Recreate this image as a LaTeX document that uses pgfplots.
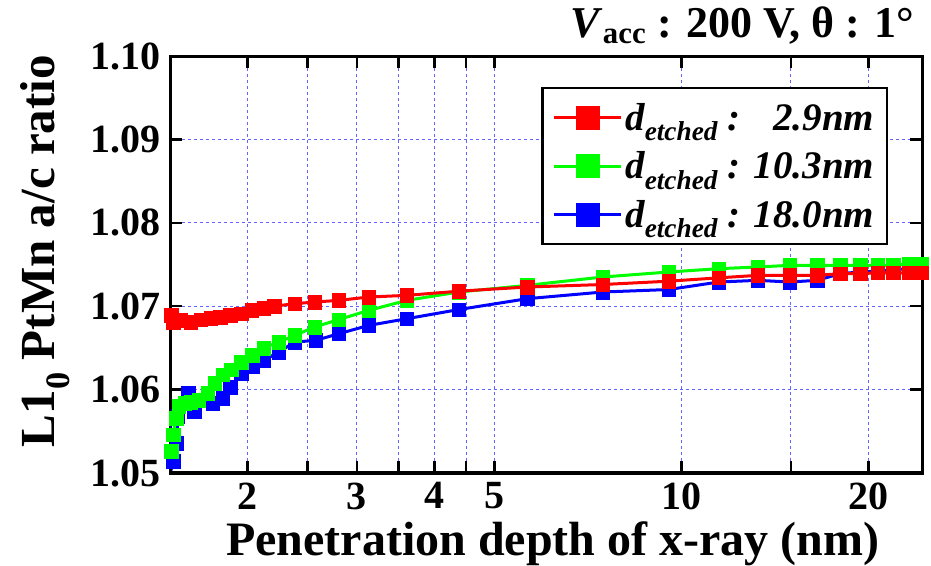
\documentclass[border=0pt]{standalone}
\usepackage{fontspec}
\setmainfont{Liberation Serif}
\usepackage{pgfplots}
\pgfplotsset{compat=1.18}
\definecolor{gridblue}{RGB}{100,100,255}
\definecolor{pred}{RGB}{255,0,0}
\definecolor{pgreen}{RGB}{0,255,0}
\definecolor{pblue}{RGB}{0,0,255}
\begin{document}
\begin{tikzpicture}
\useasboundingbox (0,0) rectangle (931bp,566bp);
\begin{axis}[
  at={(170bp,93bp)}, anchor=south west,
  scale only axis, width=752bp, height=417bp,
  xmode=log, xmin=1.5, xmax=24.4, ymin=1.05, ymax=1.10,
  xtick={2,3,4,5,10,20}, xticklabels={2,3,4,5,10,20},
  minor xtick={2.5,3.5,4.5,15},
  ytick={1.05,1.06,1.07,1.08,1.09,1.10},
  yticklabels={1.05,1.06,1.07,1.08,1.09,1.10},
  grid=both,
  major grid style={gridblue, dash pattern=on 3bp off 3bp, line width=1bp},
  minor grid style={gridblue, dash pattern=on 3bp off 3bp, line width=1bp},
  tick align=inside,
  major tick length=12bp, minor tick length=12bp,
  tick style={black, line width=2.5bp},
  axis line style={black, line width=3bp},
  ticklabel style={font=\fontsize{40bp}{40bp}\selectfont\bfseries},
  /pgf/number format/assume math mode=true,
  xticklabel style={anchor=north, yshift=-6bp},
  yticklabel style={anchor=east, xshift=-6bp},
  xlabel={Penetration depth of x-ray (nm)},
  xlabel style={at={(axis description cs:0.509,-0.197)}, anchor=base, font=\fontsize{48bp}{48bp}\selectfont\bfseries},
  ylabel={L1\textsubscript{0} PtMn a/c ratio},
  ylabel style={at={(axis description cs:-0.166,0.532)}, anchor=center, font=\fontsize{49bp}{49bp}\selectfont\bfseries},
  title={\textit{V}\textsubscript{acc} : 200 V, θ : 1°},
  title style={at={(axis description cs:0.9947,1.031)}, anchor=base east, font=\fontsize{44bp}{44bp}\selectfont\bfseries},
  reverse legend,
  legend cell align=left,
  legend style={at={(rel axis cs:0.4934,0.9257)}, anchor=north west, draw=black, line width=2.5bp, fill=white,
    font=\fontsize{39bp}{39bp}\selectfont\bfseries\itshape, row sep=14bp, inner xsep=10bp, inner ysep=12bp,
    nodes={inner sep=3bp}},
  legend image code/.code={
    \draw[#1,mark=none] (0bp,0bp) -- (67bp,0bp);
    \draw[#1,mark size=11.5bp] plot coordinates {(33.5bp,0bp)};
  },
]
\addplot[pblue, line width=3bp, mark=square*, mark size=6.8bp, mark options={line width=0.3bp}] coordinates {
(1.497,1.0556) (1.516,1.0514) (1.537,1.0536) (1.544,1.0568) (1.603,1.0596) (1.620,1.0584)
(1.641,1.0574) (1.669,1.0588) (1.758,1.0584) (1.825,1.0590) (1.877,1.0603) (1.954,1.0619)
(2.035,1.0628) (2.122,1.0635) (2.246,1.0645) (2.381,1.0657) (2.573,1.0659) (2.805,1.0667)
(3.136,1.0677) (3.610,1.0685) (4.378,1.0696) (5.642,1.0709) (7.467,1.0717) (9.538,1.0720)
(11.48,1.0729) (13.27,1.0731) (14.93,1.0729) (16.54,1.0731) (18.01,1.0739) (19.40,1.0741)
(20.70,1.0742) (21.94,1.0744) (23.22,1.0745) (24.3,1.0745)
};
\addlegendentry{d\textsubscript{etched} : 18.0nm}
\addplot[pgreen, line width=3bp, mark=square*, mark size=6.8bp, mark options={line width=0.3bp}] coordinates {
(1.507,1.0526) (1.516,1.0546) (1.535,1.0566) (1.550,1.0580) (1.583,1.0584) (1.620,1.0585)
(1.669,1.0587) (1.726,1.0596) (1.769,1.0608) (1.825,1.0618) (1.883,1.0624) (1.954,1.0633)
(2.035,1.0641) (2.122,1.0650) (2.246,1.0657) (2.381,1.0665) (2.565,1.0675) (2.805,1.0684)
(3.136,1.0695) (3.610,1.0707) (4.378,1.0717) (5.642,1.0725) (7.467,1.0735) (9.538,1.0741)
(11.48,1.0745) (13.27,1.0747) (14.93,1.0749) (16.54,1.0749) (18.01,1.0749) (19.40,1.0749)
(20.70,1.0749) (21.94,1.0749) (23.22,1.0751) (24.3,1.0751)
};
\addlegendentry{d\textsubscript{etched} : 10.3nm}
\addplot[pred, line width=3bp, mark=square*, mark size=6.8bp, mark options={line width=0.3bp}] coordinates {
(1.507,1.0689) (1.516,1.0681) (1.558,1.0683) (1.620,1.0681) (1.681,1.0684) (1.744,1.0686)
(1.808,1.0687) (1.877,1.0689) (1.954,1.0691) (2.030,1.0695) (2.122,1.0698) (2.208,1.0700)
(2.381,1.0703) (2.565,1.0705) (2.805,1.0707) (3.136,1.0711) (3.610,1.0713) (4.378,1.0718)
(5.642,1.0723) (7.467,1.0726) (9.538,1.0730) (11.48,1.0734) (13.27,1.0737) (14.93,1.0737)
(16.54,1.0737) (18.01,1.0739) (19.40,1.0739) (20.70,1.0740) (21.94,1.0740) (23.22,1.0740)
(24.3,1.0740)
};
\addlegendentry{d\textsubscript{etched} : \phantom{1}2.9nm}
\end{axis}
\end{tikzpicture}
\end{document}
